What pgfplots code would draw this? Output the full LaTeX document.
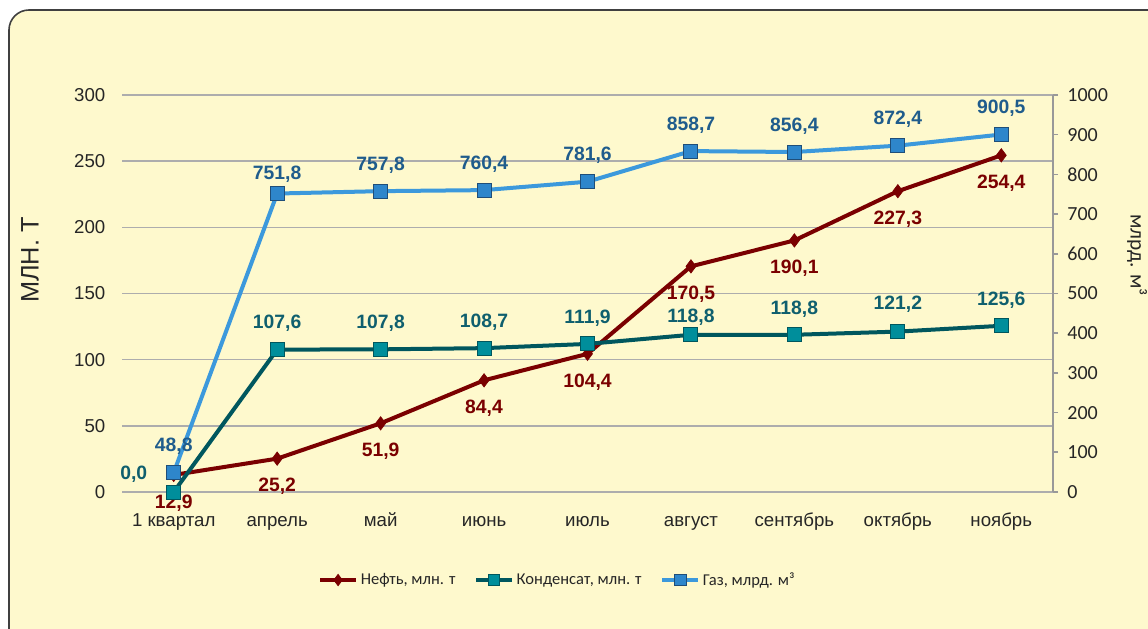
\documentclass[border=0pt]{standalone}
\usepackage{pgfplots}
\pgfplotsset{compat=1.18}
\usepackage{pgfplotstable}
\usepackage{fontspec}
\setmainfont{Liberation Sans}
\newfontfamily\carlito{Carlito}
\definecolor{bg}{HTML}{FEF9CD}
\definecolor{frame}{HTML}{404040}
\definecolor{gridc}{HTML}{ADADAD}
\definecolor{axisc}{HTML}{999999}
\definecolor{tickc}{HTML}{262626}
\definecolor{neft}{HTML}{7A0000}
\definecolor{kondline}{HTML}{00575E}
\definecolor{kondfill}{HTML}{008E9B}
\definecolor{kondlab}{HTML}{0F5F6E}
\definecolor{gasline}{HTML}{3C99DC}
\definecolor{gasfill}{HTML}{2E86CB}
\definecolor{gasdraw}{HTML}{1F4E79}
\definecolor{gaslab}{HTML}{1F5C8C}
\pgfkeys{/pgf/number format/assume math mode=true}

\pgfplotstableread{
x y
0 12.9
1 25.2
2 51.9
3 84.4
4 104.4
5 170.5
6 190.1
7 227.3
8 254.4
}\neft
\pgfplotstableread{
x y dx dy
0 0.0 -30 13.5
1 107.6 0 19.5
2 107.8 0 19.5
3 108.7 0 19.5
4 111.9 0 19.5
5 118.8 0 13.5
6 118.8 0 19.5
7 121.2 0 20.5
8 125.6 0 19.5
}\kond
\pgfplotstableread{
x y dy
0 48.8 20
1 751.8 14.5
2 757.8 19.5
3 760.4 19.5
4 781.6 19.5
5 858.7 19.5
6 856.4 19.5
7 872.4 19.5
8 900.5 20
}\gas

\begin{document}
\begin{tikzpicture}
\useasboundingbox (0,0) rectangle (861pt,471pt);
\fill[bg, draw=frame, line width=1.2pt, rounded corners=15pt] (6.75pt,-40pt) rectangle (920pt,463.5pt);
\begin{axis}[
  at={(91.5pt,102pt)}, anchor=south west,
  width=698.25pt, height=297.75pt, scale only axis,
  clip=false,
  xmin=-0.5, xmax=8.5, ymin=0, ymax=300,
  xtick={0,...,8},
  xticklabels={1 квартал, апрель, май, июнь, июль, август, сентябрь, октябрь, ноябрь},
  ytick={0,50,...,300},
  axis x line*=bottom, axis y line*=left,
  x axis line style={draw=gridc, line width=1.2pt, -},
  y axis line style={draw=none, -},
  major tick length=0pt,
  ymajorgrids, grid style={draw=gridc, line width=1.2pt},
  tick label style={font=\fontsize{14}{16}\selectfont, text=tickc},
  yticklabel style={xshift=-9pt},
  xticklabel style={anchor=north, text height=10pt, text depth=3pt, yshift=-12pt},
  ylabel={МЛН. Т},
  ylabel style={at={(axis description cs:-0.0988,0.584)}, anchor=center, font=\fontsize{19}{22}\selectfont, text=tickc},
  legend style={at={(axis description cs:0.468,-0.2217)}, anchor=center, draw=none, fill=none,
    legend columns=3, font=\carlito\fontsize{12.4}{15}\selectfont, text=tickc,
    /tikz/every even column/.append style={column sep=12pt}},
  legend cell align=left,
  legend image code/.code={\draw[mark repeat=2,mark phase=2,mark size=4.3pt] plot coordinates {(0pt,0pt)(13.5pt,0pt)(27pt,0pt)};},
  nodes near coords={\pgfmathprintnumber[fixed,fixed zerofill,precision=1,use comma]{\pgfplotspointmeta}},
]
\addplot[neft, line width=3pt, mark=diamond*, mark size=5pt, mark options={solid, fill=neft, draw=neft, line width=0.5pt},
  point meta=y,
  every node near coord/.append style={anchor=center, yshift=-21pt, font=\bfseries\fontsize{14.5}{16}\selectfont, text=neft}]
  table[x=x,y=y] {\neft};
\addlegendentry{Нефть, млн. т}
\addplot[kondline, line width=3pt, mark=square*, mark size=5.25pt, mark options={solid, fill=kondfill, draw=kondline, line width=0.75pt},
  point meta=y,
  visualization depends on={\thisrow{dx} \as \dx},
  visualization depends on={\thisrow{dy} \as \dy},
  every node near coord/.append style={anchor=center, xshift=\dx, yshift=\dy, font=\bfseries\fontsize{14.5}{16}\selectfont, text=kondlab}]
  table[x=x,y=y] {\kond};
\addlegendentry{Конденсат, млн. т}
\addlegendimage{gasline, line width=3pt, mark=square*, mark size=5.25pt, mark options={solid, fill=gasfill, draw=gasdraw, line width=0.75pt}}
\addlegendentry{Газ, млрд. м³}
\end{axis}
\begin{axis}[
  at={(91.5pt,102pt)}, anchor=south west,
  width=698.25pt, height=297.75pt, scale only axis,
  clip=false,
  xmin=-0.5, xmax=8.5, ymin=0, ymax=1000,
  axis x line=none, axis y line*=right,
  ytick={0,100,...,1000},
  tick align=outside, major tick length=3.75pt,
  y axis line style={draw=axisc, line width=1.2pt, -},
  ytick style={draw=axisc, line width=1.2pt},
  /pgf/number format/1000 sep={},
  yticklabel style={font=\carlito\fontsize{15}{17}\selectfont, text=tickc, xshift=3.5pt},
  ylabel={млрд. м³},
  ylabel style={at={(axis description cs:1.0902,0.597)}, anchor=center, rotate=180, font=\carlito\fontsize{16}{19}\selectfont, text=tickc},
  nodes near coords={\pgfmathprintnumber[fixed,fixed zerofill,precision=1,use comma]{\pgfplotspointmeta}},
]
\addplot[gasline, line width=3pt, mark=square*, mark size=5.25pt, mark options={solid, fill=gasfill, draw=gasdraw, line width=0.75pt},
  point meta=y,
  visualization depends on={\thisrow{dy} \as \dy},
  every node near coord/.append style={anchor=center, yshift=\dy, font=\bfseries\fontsize{14.5}{16}\selectfont, text=gaslab}]
  table[x=x,y=y] {\gas};
\end{axis}
\end{tikzpicture}
\end{document}
